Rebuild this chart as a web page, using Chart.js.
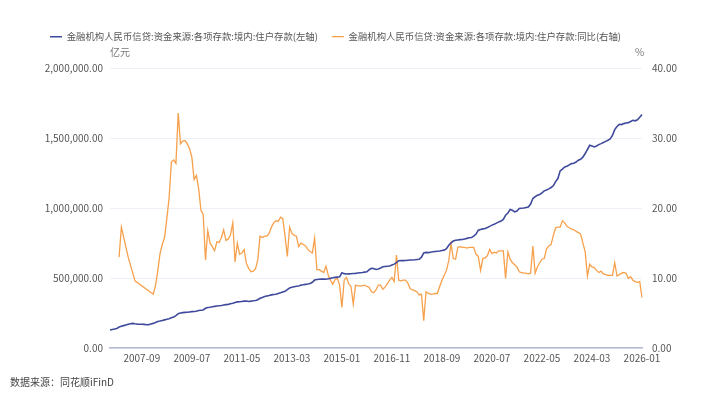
<!DOCTYPE html>
<html>
<head>
<meta charset="utf-8">
<script src="https://cdn.jsdelivr.net/npm/chart.js@4.4.1/dist/chart.umd.min.js"></script>
<style>
  html, body { margin: 0; padding: 0; background: #fff; }
  #wrap { position: relative; width: 720px; height: 400px; font-family: "Noto Sans CJK SC", "Noto Sans", sans-serif; }
  .note { position: absolute; font-size: 10px; color: #777; white-space: nowrap; }
</style>
</head>
<body>
<div id="wrap">
  <canvas id="chart" width="720" height="400"></canvas>
  <div class="note" style="left:110px; top:44px;">亿元</div>
  <div class="note" style="left:635px; top:44px;">%</div>
  <div class="note" style="left:10px; top:374px; color:#444;">数据来源：同花顺iFinD</div>
</div>
<script>
// monthly categories 2006-07 .. 2026-01
const months = [];
for (let y = 2006, m = 7; y < 2026 || (y === 2026 && m <= 1); m++) {
    if (m > 12) { m = 1; y++; if (y === 2026 && m > 1) break; }
    months.push(y + "-" + String(m).padStart(2, "0"));
}

const seriesNames = [
    "金融机构人民币信贷:资金来源:各项存款:境内:住户存款(左轴)",
    "金融机构人民币信贷:资金来源:各项存款:境内:住户存款:同比(右轴)"
];

// 住户存款, 亿元
const deposits = [
    128000, 133000, 136000, 140000, 150000, 155000, 160000, 165000, 170000, 174000,
    176000, 173000, 171000, 170000, 170000, 169000, 166000, 167000, 172000, 176000,
    182000, 190000, 193000, 197000, 201000, 205000, 210000, 216000, 222000, 232000,
    245000, 250000, 253000, 255000, 256000, 258000, 260000, 261000, 263000, 268000,
    270000, 272000, 284000, 290000, 292000, 295000, 298000, 300000, 302000, 304000,
    307000, 310000, 312000, 316000, 320000, 326000, 330000, 331000, 333000, 335000,
    336000, 333000, 335000, 338000, 340000, 345000, 356000, 362000, 368000, 372000,
    375000, 380000, 383000, 385000, 390000, 395000, 400000, 405000, 418000, 430000,
    434000, 438000, 442000, 444000, 450000, 452000, 455000, 458000, 462000, 470000,
    486000, 490000, 492000, 493000, 494000, 492000, 495000, 498000, 502000, 505000,
    507000, 509000, 538000, 532000, 529000, 530000, 531000, 533000, 534000, 536000,
    538000, 540000, 543000, 545000, 560000, 570000, 568000, 562000, 565000, 572000,
    581000, 583000, 585000, 587000, 593000, 600000, 610000, 624000, 625000, 625000,
    626000, 628000, 629000, 630000, 631000, 633000, 635000, 650000, 680000, 684000,
    682000, 685000, 688000, 690000, 692000, 694000, 698000, 700000, 710000, 735000,
    752000, 765000, 771000, 773000, 775000, 776000, 780000, 784000, 788000, 791000,
    800000, 815000, 843000, 848000, 852000, 855000, 862000, 870000, 879000, 885000,
    893000, 902000, 908000, 920000, 950000, 965000, 991000, 985000, 974000, 980000,
    998000, 1000000, 1002000, 1005000, 1008000, 1030000, 1069000, 1082000, 1093000, 1098000,
    1110000, 1124000, 1130000, 1138000, 1148000, 1160000, 1190000, 1212000, 1267000, 1280000,
    1295000, 1300000, 1310000, 1319000, 1322000, 1330000, 1343000, 1350000, 1365000, 1391000,
    1420000, 1450000, 1445000, 1438000, 1445000, 1455000, 1462000, 1470000, 1478000, 1486000,
    1495000, 1520000, 1562000, 1585000, 1600000, 1598000, 1605000, 1610000, 1612000, 1620000,
    1629000, 1625000, 1632000, 1650000, 1671000
];

// 同比, %
const yoy = [
    null, null, null, null, 13.0, 17.3, null, null, 13.0, null,
    null, 9.6, null, null, null, null, null, null, null, 7.7,
    8.9, 11.0, 13.5, 14.8, 15.8, 18.5, 21.5, 26.6, 26.9, 26.4,
    33.6, 29.2, 29.6, 29.7, 29.2, 28.5, 27.3, 24.1, 24.7, 22.8,
    19.7, 19.1, 12.6, 16.8, 15.0, 14.5, 13.9, 15.2, 15.1, 15.8,
    16.9, 15.4, 15.6, 16.2, 17.9, 12.3, 15.0, 13.4, 13.6, 14.1,
    12.1, 11.4, 10.9, 11.0, 11.3, 12.6, 16.0, 15.8, 16.0, 16.0,
    16.4, 17.3, 17.9, 18.2, 18.1, 18.7, 18.5, 16.0, 13.1, 17.3,
    16.4, 16.1, 16.0, 14.5, 15.0, 14.8, 14.6, 14.1, 13.8, 13.6,
    15.7, 11.2, 11.2, 11.0, 10.8, 11.7, 10.4, 9.7, 9.1, 9.8,
    9.95, 9.0, 5.8, 9.7, 10.1, 9.2, 8.8, 6.3, 9.0, 8.9,
    8.9, 8.9, 9.0, 8.8, 8.7, 8.05, 7.9, 8.3, 9.0, 9.0,
    8.4, 8.7, 9.2, 9.7, 10.1, 9.5, 13.3, 9.7, 9.6, 9.7,
    9.7, 9.3, 8.5, 8.3, 8.2, 8.05, 7.6, 7.7, 3.9, 8.05,
    7.8, 7.7, 7.7, 7.8, 7.8, 8.8, 9.7, 10.4, 11.1, 12.5,
    14.9, 12.8, 12.7, 14.4, 14.5, 14.4, 14.4, 14.3, 14.4, 14.4,
    14.4, 13.4, 13.1, 11.1, 12.8, 12.9, 13.2, 14.1, 13.5, 13.7,
    13.6, 13.9, 13.9, 13.9, 9.95, 13.76, 12.7, 12.2, 11.9, 11.6,
    10.9, 10.8, 10.7, 10.7, 10.6, 10.7, 14.6, 10.7, 11.6, 12.2,
    12.7, 12.8, 14.2, 14.6, 14.8, 16.1, 17.2, 17.3, 17.3, 18.2,
    17.9, 17.4, 17.2, 17.0, 16.9, 16.7, 16.5, 16.3, 15.0, 13.8,
    10.3, 12.0, 11.6, 11.5, 11.1, 10.8, 11.0, 10.6, 10.5, 10.4,
    10.4, 10.4, 12.2, 10.3, 10.5, 10.7, 10.8, 10.7, 9.95, 10.2,
    9.7, 9.5, 9.4, 9.5, 7.2
];

const tickFont = { family: "Noto Sans CJK SC", size: 10 };
const fmt2 = v => Number(v).toLocaleString("en-US", { minimumFractionDigits: 2, maximumFractionDigits: 2 });

// leave room under the legend for the unit labels
const legendGap = {
    id: "legendGap",
    beforeInit(chart) {
        const fit = chart.legend.fit;
        chart.legend.fit = function () {
            fit.call(this);
            this.height += 17;
        };
    }
};

new Chart(document.getElementById("chart").getContext("2d"), {
    type: "line",
    data: {
        labels: months,
        datasets: [{
            label: seriesNames[0],
            data: deposits,
            yAxisID: "yL",
            borderColor: "#3f4a9c",
            backgroundColor: "#3f4a9c",
            borderWidth: 1.6,
            pointRadius: 0,
            tension: 0
        }, {
            label: seriesNames[1],
            data: yoy,
            yAxisID: "yR",
            borderColor: "#f7a04b",
            backgroundColor: "#f7a04b",
            borderWidth: 1.3,
            pointRadius: 0,
            spanGaps: true,
            tension: 0
        }]
    },
    plugins: [legendGap],
    options: {
        responsive: false,
        animation: false,
        layout: { padding: { left: 36, right: 0, top: 18, bottom: 0 } },
        plugins: {
            legend: {
                align: "start",
                labels: {
                    usePointStyle: true,
                    pointStyle: "line",
                    pointStyleWidth: 12,
                    boxHeight: 10,
                    padding: 14,
                    color: "#555",
                    font: { family: "Noto Sans CJK SC", size: 9.4 }
                }
            },
            tooltip: { enabled: false }
        },
        scales: {
            x: {
                grid: { display: false, drawTicks: false },
                border: { color: "#b3bbd4", width: 1.5 },
                ticks: {
                    autoSkip: false,
                    maxRotation: 0,
                    padding: 4,
                    color: "#555",
                    font: tickFont,
                    callback: function (v, i) { return (i - 14) % 22 === 0 ? months[i] : null; }
                },
                afterFit: s => { s.height = 52; }
            },
            yL: {
                position: "left",
                min: 0, max: 2000000,
                grid: { color: "#eef0f7", drawTicks: false },
                border: { display: false },
                ticks: { stepSize: 500000, padding: 7, color: "#555", font: tickFont, callback: fmt2 },
                afterFit: s => { s.width = 74; }
            },
            yR: {
                position: "right",
                min: 0, max: 40,
                grid: { display: false, drawTicks: false },
                border: { display: false },
                ticks: { stepSize: 10, padding: 10, color: "#555", font: tickFont, callback: fmt2 },
                afterFit: s => { s.width = 78; }
            }
        }
    }
});
</script>
</body>
</html>
